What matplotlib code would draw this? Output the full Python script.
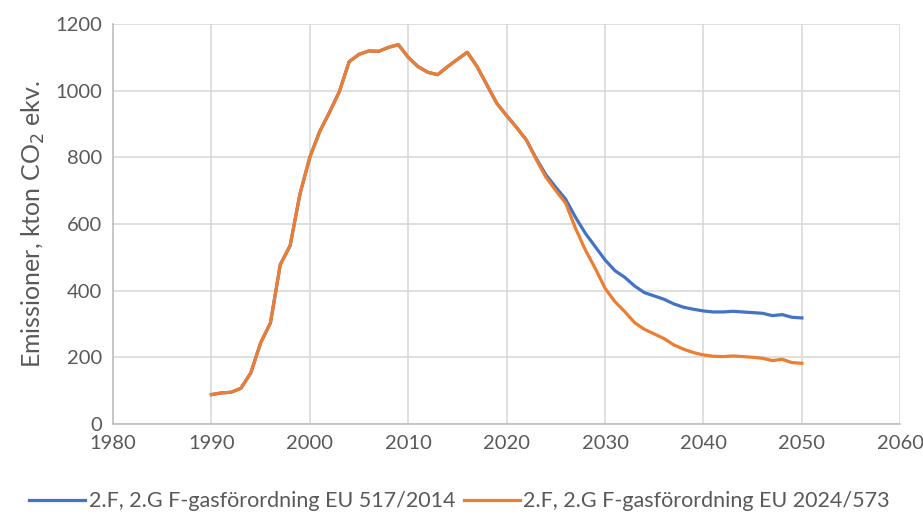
import numpy as np
import matplotlib
matplotlib.use('Agg')
import matplotlib.pyplot as plt

# Emissions, kton CO2-eq
years = list(range(1990, 2051))

# common history 1990-2022
history = [88, 93, 95, 107, 153, 243, 303, 478, 535, 690,
           800, 877, 935, 997, 1087, 1109, 1119, 1118, 1130, 1138,
           1100, 1072, 1055, 1048, 1072, 1094, 1115, 1072, 1017, 962,
           925, 890, 852]

# scenario EU 517/2014, 2023-2050
proj_517 = [797, 747, 710, 674, 620, 572, 532, 492, 460, 440,
            414, 394, 384, 374, 360, 350, 344, 339, 336, 336,
            338, 336, 334, 332, 325, 328, 320, 318]

# scenario EU 2024/573, 2023-2050
proj_573 = [794, 740, 700, 662, 587, 522, 467, 407, 367, 337,
            304, 284, 270, 256, 237, 224, 214, 207, 203, 202,
            204, 202, 200, 197, 190, 194, 184, 182]

series_labels = ['2.F, 2.G F-gasförordning EU 517/2014',
                 '2.F, 2.G F-gasförordning EU 2024/573']
x_ticks = [1980, 1990, 2000, 2010, 2020, 2030, 2040, 2050, 2060]
y_ticks = [0, 200, 400, 600, 800, 1000, 1200]

plt.rcParams['font.family'] = ['Lato', 'DejaVu Sans']

fig = plt.figure(figsize=(9.23, 5.17), dpi=100)
ax = fig.add_axes([0.1224, 0.18, 0.853, 0.7736])

ax.plot(years, history + proj_517, color='#4472C4', lw=2.3,
        label=series_labels[0], solid_joinstyle='round')
ax.plot(years, history + proj_573, color='#ED7D31', lw=2.3,
        label=series_labels[1], solid_joinstyle='round')

ax.set_xlim(1980, 2060)
ax.set_ylim(0, 1200)
ax.set_xticks(x_ticks)
ax.set_yticks(y_ticks)
ax.grid(True, color='#d9d9d9', lw=1.2)
ax.set_axisbelow(True)
for s in ['top', 'right']:
    ax.spines[s].set_visible(False)
for s in ['left', 'bottom']:
    ax.spines[s].set_color('#bfbfbf')
    ax.spines[s].set_linewidth(1.2)
ax.tick_params(length=0, labelsize=14.5, labelcolor='#595959', pad=8)

ax.set_ylabel('Emissioner, kton CO$_2$ ekv.', fontsize=18, color='#595959', labelpad=6)

ax.legend(loc='upper center', bbox_to_anchor=(0.44, -0.12), ncol=2, frameon=False,
          fontsize=15.5, labelcolor='#595959', handlelength=2.6, handletextpad=0.15,
          columnspacing=0.4)

fig.savefig('out.png', dpi=100)
